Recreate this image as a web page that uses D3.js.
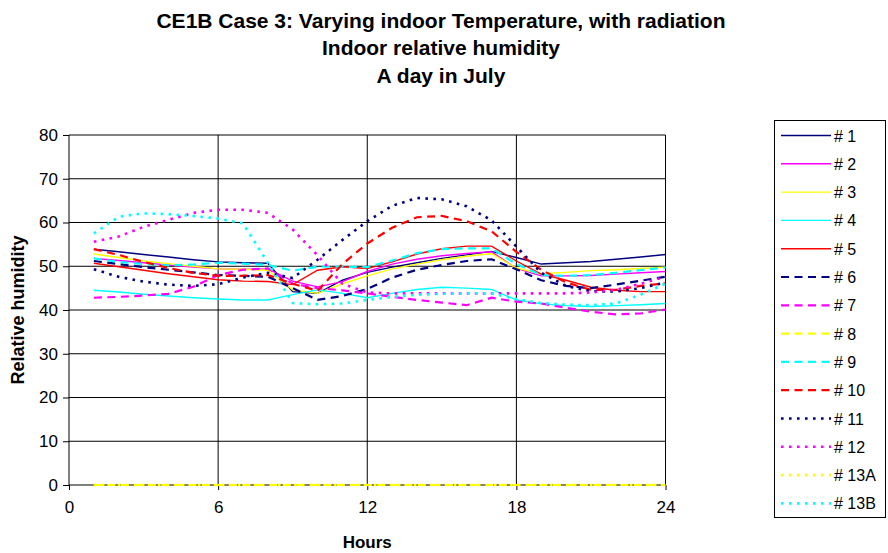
<!DOCTYPE html>
<html>
<head>
<meta charset="utf-8">
<script src="https://cdn.jsdelivr.net/npm/d3@7"></script>
<style>
  html, body { margin: 0; padding: 0; background: #fff; }
  svg { display: block; font-family: Arial, "Liberation Sans", sans-serif; }
</style>
</head>
<body>
<svg id="chart" width="888" height="553"></svg>
<script>
// Hour of day for each sample
const hours = [1, 2, 3, 4, 5, 6, 7, 8, 9, 10, 11, 12, 13, 14, 15, 16, 17, 18, 19, 20, 21, 22, 23, 24];

// Indoor relative humidity (%) per program
const rh1  = [53.9, 53.3, 52.7, 52.1, 51.5, 51.0, 50.8, 50.7, 44.2, 43.8, 46.8, 48.6, 49.8, 50.8, 51.8, 52.6, 53.4, 52.0, 50.5, 50.8, 51.1, 51.6, 52.1, 52.7];
const rh2  = [51.8, 51.3, 50.8, 50.3, 49.8, 49.4, 49.3, 49.4, 46.6, 45.3, 46.5, 48.8, 50.5, 51.6, 52.4, 52.9, 53.3, 49.5, 47.8, 47.8, 47.9, 48.2, 48.5, 48.8];
const rh3  = [52.8, 52.0, 51.2, 50.6, 50.0, 49.4, 49.3, 49.1, 44.6, 43.8, 46.0, 47.8, 49.4, 50.5, 51.5, 52.3, 52.9, 49.6, 48.3, 48.6, 49.0, 49.2, 49.5, 49.8];
const rh4  = [44.5, 44.1, 43.6, 43.2, 42.8, 42.5, 42.3, 42.3, 43.5, 44.6, 43.8, 42.8, 43.8, 44.7, 45.2, 45.0, 44.7, 42.3, 41.4, 41.0, 40.8, 41.0, 41.2, 41.5];
const rh5  = [50.7, 49.9, 49.1, 48.3, 47.6, 46.9, 46.6, 46.5, 45.8, 49.1, 49.9, 49.5, 51.0, 52.8, 54.0, 54.6, 54.6, 51.2, 48.2, 46.8, 45.2, 44.5, 44.2, 44.2];
const rh6  = [51.2, 50.5, 49.8, 49.2, 48.6, 48.0, 47.8, 47.6, 45.0, 42.3, 43.2, 44.8, 47.4, 49.2, 50.3, 51.2, 51.6, 49.3, 46.8, 45.5, 45.0, 45.8, 46.7, 47.6];
const rh7  = [42.8, 43.0, 43.3, 43.7, 45.3, 48.0, 49.2, 49.5, 46.0, 45.0, 44.5, 43.8, 43.0, 42.3, 41.7, 41.1, 42.8, 41.9, 41.5, 40.5, 39.6, 39.0, 39.2, 40.1];
const rh8  = [0, 0, 0, 0, 0, 0, 0, 0, 0, 0, 0, 0, 0, 0, 0, 0, 0, 0, 0, 0, 0, 0, 0, 0];
const rh9  = [51.8, 51.0, 50.5, 50.2, 50.4, 50.8, 50.6, 50.3, 49.0, 49.9, 49.9, 49.8, 51.3, 53.0, 53.9, 54.1, 54.1, 50.5, 48.0, 47.8, 48.0, 48.5, 49.1, 49.7];
const rh10 = [53.9, 52.6, 51.0, 49.6, 48.5, 47.8, 47.8, 48.0, 46.0, 44.4, 50.5, 55.2, 58.8, 61.2, 61.5, 60.3, 58.0, 53.3, 49.2, 46.3, 44.6, 44.6, 45.5, 46.1];
const rh11 = [49.3, 47.6, 46.5, 45.8, 45.5, 45.9, 47.4, 48.5, 47.3, 51.5, 56.0, 60.3, 63.8, 65.6, 65.3, 63.7, 60.5, 54.5, 48.5, 45.5, 44.3, 44.2, 45.0, 46.3];
const rh12 = [55.6, 56.8, 59.0, 60.6, 62.2, 62.9, 62.9, 62.2, 58.4, 52.5, 46.0, 44.0, 43.8, 43.8, 43.8, 43.8, 43.8, 43.8, 43.8, 43.8, 44.0, 44.6, 46.0, 47.6];
const rh13A = [0, 0, 0, 0, 0, 0, 0, 0, 0, 0, 0, 0, 0, 0, 0, 0, 0, 0, 0, 0, 0, 0, 0, 0];
const rh13B = [57.5, 61.3, 62.1, 61.9, 61.5, 60.9, 59.8, 50.8, 41.6, 41.3, 41.5, 42.3, 43.0, 43.5, 43.7, 43.8, 43.8, 42.5, 41.6, 41.2, 41.1, 41.5, 43.5, 46.0];

const seriesNames  = ["# 1", "# 2", "# 3", "# 4", "# 5", "# 6", "# 7", "# 8", "# 9", "# 10", "# 11", "# 12", "# 13A", "# 13B"];
const seriesValues = [rh1, rh2, rh3, rh4, rh5, rh6, rh7, rh8, rh9, rh10, rh11, rh12, rh13A, rh13B];

const xTicks = [0, 6, 12, 18, 24];
const yTicks = [0, 10, 20, 30, 40, 50, 60, 70, 80];

// Line appearance: colour cycles by program family, dash by group
const colours = ["#000080", "#FF00FF", "#FFFF00", "#00FFFF", "#FF0000"];
const styleOf = i => {
  const colour = colours[i < 10 ? i % 5 : [0, 1, 2, 3][i - 10]];
  if (i < 5)  return { colour, width: 1.4, dash: null };
  if (i < 10) return { colour, width: 2.2, dash: "8,5.5" };
  return { colour, width: 2.6, dash: "2.6,5.4" };
};

const svg = d3.select("#chart");

const x = d3.scaleLinear().domain([0, 24]).range([69, 665.5]);
const y = d3.scaleLinear().domain([0, 80]).range([485, 135]);

// Horizontal gridlines
svg.append("g").selectAll("line")
  .data(yTicks.filter(v => v > 0))
  .join("line")
  .attr("x1", x(0)).attr("x2", x(24))
  .attr("y1", d => y(d)).attr("y2", d => y(d))
  .attr("stroke", "#000").attr("stroke-width", 1);

// Vertical gridlines
svg.append("g").selectAll("line")
  .data(xTicks.filter(v => v > 0))
  .join("line")
  .attr("x1", d => x(d)).attr("x2", d => x(d))
  .attr("y1", y(0)).attr("y2", y(80))
  .attr("stroke", "#000").attr("stroke-width", 1);

// Axes
const yAxis = d3.axisLeft(y).tickValues(yTicks).tickSize(6).tickPadding(5);
const xAxis = d3.axisBottom(x).tickValues(xTicks).tickSize(5).tickPadding(11);

const gy = svg.append("g").attr("transform", `translate(${x(0)},0)`).call(yAxis);
const gx = svg.append("g").attr("transform", `translate(0,${y(0)})`).call(xAxis);
[gx, gy].forEach(g => {
  g.select(".domain").attr("stroke", "#000").attr("d", null);
  g.selectAll(".tick line").attr("stroke", "#000");
  g.selectAll(".tick text").attr("font-size", 17).attr("fill", "#000")
    .attr("font-family", "Arial, 'Liberation Sans', sans-serif");
});
svg.append("line").attr("x1", x(0)).attr("x2", x(0)).attr("y1", y(0)).attr("y2", y(80)).attr("stroke", "#000");
svg.append("line").attr("x1", x(0)).attr("x2", x(24)).attr("y1", y(0)).attr("y2", y(0)).attr("stroke", "#000");

// Series lines
const line = d3.line().x((d, i) => x(hours[i])).y(d => y(d));
seriesValues.forEach((vals, i) => {
  const s = styleOf(i);
  svg.append("path")
    .datum(vals)
    .attr("d", line)
    .attr("fill", "none")
    .attr("stroke", s.colour)
    .attr("stroke-width", s.width)
    .attr("stroke-dasharray", s.dash);
});

// Titles
const title = ["CE1B Case 3: Varying indoor Temperature, with radiation", "Indoor relative humidity", "A day in July"];
svg.append("g").selectAll("text")
  .data(title).join("text")
  .attr("x", 441).attr("y", (d, i) => 27.5 + i * 27.5)
  .attr("text-anchor", "middle")
  .attr("font-size", 21).attr("font-weight", "bold")
  .text(d => d);

svg.append("text")
  .attr("transform", `translate(23.5,${(y(0) + y(80)) / 2}) rotate(-90)`)
  .attr("text-anchor", "middle")
  .attr("font-size", 18).attr("font-weight", "bold")
  .text("Relative humidity");

svg.append("text")
  .attr("x", (x(0) + x(24)) / 2).attr("y", 548)
  .attr("text-anchor", "middle")
  .attr("font-size", 17).attr("font-weight", "bold")
  .text("Hours");

// Legend
const legend = svg.append("g");
legend.append("rect")
  .attr("x", 774.5).attr("y", 120.5).attr("width", 111).attr("height", 397)
  .attr("fill", "#fff").attr("stroke", "#000");
const rows = legend.selectAll("g.row")
  .data(seriesNames).join("g")
  .attr("class", "row")
  .attr("transform", (d, i) => `translate(0,${135.5 + i * 28.3})`);
rows.append("line")
  .attr("x1", 781).attr("x2", 831).attr("y1", 0).attr("y2", 0)
  .each(function (d, i) {
    const s = styleOf(i);
    d3.select(this).attr("stroke", s.colour).attr("stroke-width", s.width).attr("stroke-dasharray", s.dash);
  });
rows.append("text")
  .attr("x", 834).attr("y", 6)
  .attr("font-size", 16)
  .text(d => d);
</script>
</body>
</html>
